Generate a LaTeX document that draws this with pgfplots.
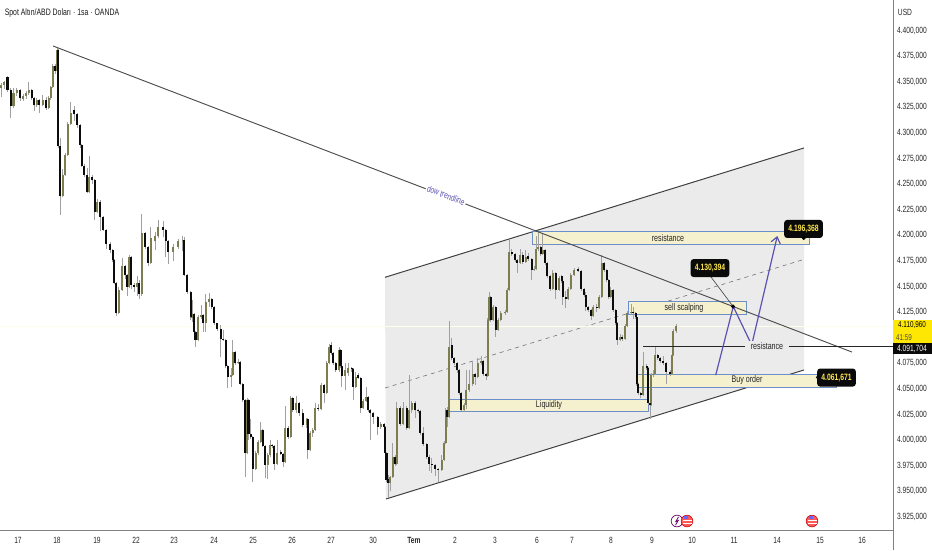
\documentclass[border=0pt]{standalone}
\usepackage{pgfplots}
\usepackage{pgfplotstable}
\usepackage{fontspec}
\pgfplotsset{compat=1.18}
\usetikzlibrary{arrows.meta}
\setmainfont{Liberation Sans}[FakeStretch=0.74]
\definecolor{upc}{HTML}{7C7D50}
\definecolor{dnc}{HTML}{0C0C0C}
\definecolor{wick}{HTML}{A0A0A0}
\definecolor{chan}{HTML}{EBEBEB}
\definecolor{boxf}{HTML}{F5F0CE}
\definecolor{boxl}{HTML}{6C8FC8}
\definecolor{purp}{HTML}{5A52B4}
\definecolor{ink}{HTML}{262626}
\definecolor{axc}{HTML}{808080}
\definecolor{pill}{HTML}{0A0A0A}
\definecolor{pillt}{HTML}{FFE84A}
\pgfplotstableread{
x o h l c
1 4344 4349 4335 4347
4.3 4347 4351 4343 4350
13.5 4326 4344 4324 4339
16.7 4339 4344 4336 4342
23.3 4333 4338 4331 4336
26 4336 4341 4333 4339
28.7 4339 4350 4337 4342
36.7 4327 4334 4325 4332
42.7 4327 4337 4326 4332
48.7 4324 4336 4323 4334
50.7 4334 4346 4332 4345
52.7 4345 4367 4344 4365
57 4360 4384 4359 4381
62.7 4238 4265 4237 4259
65 4259 4280 4258 4278
67.7 4278 4311 4277 4309
70.7 4309 4330 4308 4319
89.3 4242 4277 4241 4257
97.3 4223 4235 4222 4233
118.7 4124 4150 4123 4147
122 4147 4178 4146 4170
129.3 4150 4181 4149 4179
137.3 4150 4160 4141 4153
141.7 4143 4221 4141 4202
150.7 4173 4208 4172 4197
155 4194 4203 4186 4199
158.3 4199 4215 4197 4208
173.3 4184 4192 4175 4189
178.3 4189 4196 4187 4194
182.7 4194 4199 4185 4195
192 4119 4137 4115 4123
198 4098 4122 4097 4120
201 4120 4132 4118 4122
205.7 4114 4143 4106 4135
209.3 4135 4144 4130 4138
231 4062 4070 4052 4064
232.7 4064 4098 4063 4086
238.3 4075 4079 4074 4076
247 3987 4041 3986 4039
255.7 3972 3989 3971 3987
258.3 3987 4000 3985 3998
260.7 3998 4018 3997 4010
267.7 3976 3987 3962 3985
270 3985 4000 3984 3995
277.3 3977 4000 3976 3987
285 3979 4033 3978 4012
290.7 4003 4043 4002 4041
296 4029 4043 4026 4036
306.7 4015 4022 4012 4021
310 3990 4009 3989 4007
312.7 4007 4012 4003 4010
315 4010 4036 4009 4031
321 4030 4056 4029 4054
326.7 4046 4077 4045 4075
329 4075 4094 4074 4091
339 4068 4091 4067 4088
345 4063 4075 4049 4068
348.3 4066 4075 4063 4070
355.7 4052 4067 4051 4062
363.3 4031 4040 4030 4038
366 4038 4052 4037 4042
380.7 4013 4018 4011 4016
390 3958 3965 3950 3964
392.7 3964 3997 3963 3984
396.7 3977 4037 3976 4031
403.3 4016 4037 4015 4031
409.3 4012 4064 4011 4029
411.7 4029 4038 4026 4036
441.7 3971 3985 3970 3981
444 3981 3999 3980 3997
445.7 3997 4031 3996 4029
449 4023 4116 4022 4091
464.3 4029 4036 4027 4034
466 4034 4068 4030 4049
469.3 4049 4068 4047 4055
472.7 4055 4076 4053 4065
477.7 4062 4080 4061 4075
481 4075 4082 4073 4077
487.7 4063 4119 4062 4117
489 4117 4145 4116 4140
493.3 4117 4132 4116 4130
498.3 4108 4119 4107 4117
500.7 4117 4126 4116 4124
505 4124 4127 4122 4125
507.3 4125 4149 4124 4147
509 4147 4195 4146 4184
520 4173 4187 4172 4181
525.7 4174 4186 4173 4179
534 4166 4170 4165 4167
536 4167 4199 4166 4187
538.3 4187 4203 4185 4189
542.7 4182 4202 4181 4186
552.7 4148 4166 4147 4163
559.3 4147 4160 4146 4158
568.3 4138 4150 4137 4148
570.7 4148 4163 4147 4161
574 4161 4168 4160 4166
593.3 4121 4132 4120 4130
599.3 4129 4142 4128 4140
601.7 4140 4181 4139 4173
610.7 4140 4150 4139 4147
620 4098 4104 4097 4101
625 4099 4113 4098 4111
627.3 4111 4126 4110 4124
631 4124 4133 4122 4125
643.3 4044 4086 4043 4072
651 4034 4066 4033 4064
653.3 4064 4068 4062 4065
655 4065 4091 4064 4083
672 4065 4085 4064 4083
673.3 4083 4109 4082 4107
676 4107 4113 4105 4111
}\upT
\pgfplotstableread{
x o h l c
7.5 4355 4356 4340 4342
10.7 4342 4344 4315 4326
20 4342 4343 4331 4334
31.7 4342 4343 4332 4334
34 4334 4335 4321 4327
39.3 4332 4333 4319 4327
46 4332 4335 4322 4324
55.3 4365 4367 4358 4360
58.3 4381 4382 4285 4287
60 4287 4295 4220 4238
74 4322 4326 4312 4318
77.3 4318 4319 4305 4308
80 4308 4309 4285 4288
81.7 4288 4289 4267 4268
84 4268 4270 4257 4259
87.3 4259 4266 4241 4242
92 4257 4259 4250 4254
94.7 4254 4255 4215 4223
100 4233 4234 4204 4218
103.3 4218 4219 4204 4205
106 4205 4206 4187 4192
110 4192 4193 4183 4186
112.7 4186 4187 4174 4176
114 4176 4177 4152 4153
116 4153 4154 4121 4124
125 4170 4171 4157 4161
127.3 4161 4162 4141 4150
131 4179 4180 4148 4151
134 4151 4153 4145 4150
139.3 4153 4156 4138 4143
145 4202 4203 4187 4189
148.3 4189 4190 4170 4173
163.3 4208 4214 4198 4205
165.7 4205 4206 4179 4194
168.3 4194 4195 4172 4184
184.3 4195 4198 4160 4161
187.3 4161 4162 4143 4145
190.7 4145 4146 4117 4120
194 4123 4124 4104 4106
195.5 4106 4107 4091 4098
203.3 4122 4123 4106 4114
211.7 4138 4139 4128 4130
214 4130 4131 4112 4114
217.3 4114 4114 4107 4109
220.7 4109 4112 4081 4099
223.3 4099 4108 4097 4098
225.7 4098 4099 4070 4072
227.7 4072 4073 4051 4062
235.3 4086 4087 4073 4075
240 4076 4077 4054 4055
242.7 4055 4056 4037 4039
245 4039 4040 3964 3987
248.5 4039 4040 4000 4006
250.7 4006 4021 4001 4003
252.7 4003 4004 3959 3972
262.7 4010 4011 3993 3994
265 3994 3995 3963 3976
272.3 3995 3996 3992 3994
274.3 3994 3995 3971 3977
280.7 3988 3990 3985 3986
283.3 3986 3987 3974 3979
288.3 4012 4014 4001 4003
292.7 4041 4042 4027 4029
299.3 4036 4037 4024 4026
302.7 4026 4030 4013 4015
307.7 4021 4022 3982 3990
318.3 4031 4035 4028 4030
324.3 4054 4055 4036 4046
331 4093 4096 4083 4085
333.3 4085 4086 4073 4075
335.7 4075 4076 4067 4068
340.5 4088 4089 4070 4072
341.7 4072 4073 4052 4063
351.7 4070 4071 4067 4069
353.3 4069 4070 4039 4052
358.3 4064 4066 4060 4061
360.7 4061 4062 4026 4031
368.3 4042 4043 4027 4029
370 4029 4030 4000 4026
373.3 4026 4027 4016 4023
377.7 4023 4024 4005 4013
384 4016 4017 4011 4013
385 4013 4014 3985 3987
386.5 3987 3988 3959 3961
388 3962 3966 3943 3958
395 3984 3985 3975 3977
400 4031 4033 4014 4016
406.7 4031 4033 4010 4012
415 4036 4038 4022 4029
418.3 4029 4030 4026 4028
420 4028 4029 4005 4007
423.3 4007 4013 3994 3996
426.7 3996 3997 3982 3984
429.3 3984 3985 3970 3977
431.7 3977 3983 3968 3976
435 3976 3977 3965 3972
438.3 3972 3973 3959 3971
447.3 4029 4032 4013 4023
451.7 4093 4100 4078 4080
454 4080 4081 4073 4075
457.3 4075 4076 4066 4068
459.3 4068 4069 4044 4046
461 4046 4047 4028 4029
475 4065 4066 4054 4062
483.3 4077 4078 4063 4065
486 4065 4066 4059 4063
490.7 4140 4141 4115 4117
495.7 4130 4131 4101 4108
511.7 4184 4187 4180 4182
515 4182 4183 4174 4176
517.3 4176 4177 4163 4173
522.7 4181 4184 4172 4174
528.3 4180 4183 4175 4177
531.7 4177 4178 4156 4166
540.7 4189 4190 4180 4182
545 4186 4187 4171 4173
547.3 4173 4174 4158 4160
550 4160 4161 4146 4148
555.7 4163 4164 4138 4147
561.7 4160 4161 4153 4155
562.7 4155 4156 4132 4140
565.7 4140 4146 4129 4138
578.3 4167 4169 4164 4165
581 4165 4166 4146 4148
584 4148 4149 4140 4142
585.7 4142 4145 4126 4130
588.3 4130 4131 4125 4127
591 4127 4128 4117 4121
596.7 4130 4133 4125 4129
604 4173 4174 4164 4166
606.7 4166 4167 4154 4156
608.7 4156 4157 4138 4140
613.3 4147 4148 4125 4127
615.7 4127 4128 4112 4114
617.3 4114 4115 4093 4098
622.3 4101 4103 4097 4099
633.3 4125 4130 4118 4124
635.7 4124 4125 4118 4120
636.7 4120 4121 4053 4055
638.3 4055 4056 4044 4046
640.7 4046 4047 4041 4044
646.7 4072 4074 4068 4070
648 4070 4071 4034 4036
650 4036 4037 4021 4034
657.7 4083 4084 4078 4080
660 4080 4081 4075 4077
663.3 4077 4082 4073 4075
666 4075 4076 4055 4067
670 4067 4068 4063 4065
}\dnT
\newcommand{\pillnode}[3]{\node[fill=pill,text=pillt,rounded corners=2.2pt,minimum width=#3,minimum height=13.5pt,inner sep=0pt,font=\fontsize{6.9pt}{8pt}\selectfont\bfseries] at (axis cs:#1) {#2};}
\pgfplotsset{cwick/.style={draw=none,no markers,forget plot,error bars/.cd,y dir=plus,y explicit,error mark=none,error bar style={draw=wick,solid,line width=0.6pt}},
 cbody/.style={draw=none,no markers,forget plot,error bars/.cd,y dir=plus,y explicit,error mark=none,error bar style={draw=#1,solid,line width=1.7pt}}}
\begin{document}
\begin{tikzpicture}
\begin{axis}[
  name=ax, width=699pt, height=412.5pt, scale only axis,
  xmin=0, xmax=932, ymin=3892.7, ymax=4429.8, clip=false,
  axis line style={draw=none}, major tick length=0pt,
  font=\fontsize{6.75pt}{8pt}\selectfont,
  tick label style={text=ink},
  xtick={18,57,97,136,174,214,253,292,331,373,414,455,495,537,572,611,652,692,734,777,820,862},
  xticklabels={17,18,19,22,23,24,25,26,27,30,{\bfseries Tem},2,3,6,7,8,9,10,11,14,15,16},
  xticklabel style={anchor=center,yshift=7.5pt},
  ytick={3925,3950,3975,4000,4025,4050,4075,4125,4150,4175,4200,4225,4250,4275,4300,4325,4350,4375,4400},
  yticklabels={{3.925,000},{3.950,000},{3.975,000},{4.000,000},{4.025,000},{4.050,000},{4.075,000},{4.125,000},{4.150,000},{4.175,000},{4.200,000},{4.225,000},{4.250,000},{4.275,000},{4.300,000},{4.325,000},{4.350,000},{4.375,000},{4.400,000}},
  yticklabel style={anchor=center,xshift=684pt},
]
% channel
\addplot[fill=chan,draw=none] coordinates {(385,4159)(804,4285.3)(804,4068.5)(386,3942.5)} -- cycle;
\addplot[line width=0.75pt,color=black!75] coordinates {(385,4159)(804,4285.3)};
\addplot[line width=0.75pt,color=black!75] coordinates {(386,3942.5)(804,4068.5)};
\addplot[line width=0.4pt,dash pattern=on 3pt off 3pt,color=black!60] coordinates {(385,4050.9)(802,4175.9)};
% current price line
\addplot[line width=0.5pt,color=yellow!10] coordinates {(0,4111)(893,4111)};
% zones
\addplot[fill=boxf,draw=boxl,line width=0.6pt] coordinates {(532,4204.2)(809,4204.2)(809,4191.5)(532,4191.5)} -- cycle;
\addplot[fill=boxf,draw=boxl,line width=0.6pt] coordinates {(628,4135.8)(746,4135.8)(746,4122.9)(628,4122.9)} -- cycle;
\addplot[fill=boxf,draw=boxl,line width=0.6pt] coordinates {(448.5,4039.9)(648,4039.9)(648,4028.2)(448.5,4028.2)} -- cycle;
\addplot[fill=boxf,draw=boxl,line width=0.6pt] coordinates {(637,4064.5)(836,4064.5)(836,4051.9)(637,4051.9)} -- cycle;
% candles
\addplot[cwick] table[x=x,y=l,y error plus expr=\thisrow{h}-\thisrow{l}] {\upT};
\addplot[cwick] table[x=x,y=l,y error plus expr=\thisrow{h}-\thisrow{l}] {\dnT};
\addplot[cbody=upc] table[x=x,y=o,y error plus expr=\thisrow{c}-\thisrow{o}] {\upT};
\addplot[cbody=dnc] table[x=x,y=c,y error plus expr=\thisrow{o}-\thisrow{c}] {\dnT};
% trend line
\addplot[line width=0.7pt,color=black!70] coordinates {(53,4384.9)(852,4086)};
% resistance horizontal
\addplot[line width=0.6pt,color=black!85] coordinates {(643,4091.9)(893,4091.9)};
% connector and plan
\addplot[line width=0.5pt,color=black!70] coordinates {(711,4159.3)(733,4130.6)};
\addplot[line width=0.9pt,color=purp,-{Straight Barb[length=4.5pt,width=7pt]}] coordinates {(715.7,4063.5)(733.3,4130.4)(751.7,4092.9)(777.3,4199.3)};
% dots
\addplot[only marks,mark=*,mark size=1.3pt,color=black] coordinates {(733,4130.5)(803.7,4197.4)};
\addplot[only marks,mark=o,mark size=1.4pt,color=black,mark options={fill=white}] coordinates {(818,4061.2)};
% axes
\addplot[line width=0.7pt,color=axc] coordinates {(893,3892.7)(893,4429.8)};
\addplot[line width=0.7pt,color=axc] coordinates {(0,3912.2)(893,3912.2)};
% texts
\node[anchor=west,inner sep=0pt,text=black!90,font=\fontsize{7pt}{8pt}\selectfont] at (axis cs:4.5,4417) {Spot Altın/ABD Doları · 1sa · OANDA};
\node[text=ink,font=\fontsize{6.75pt}{8pt}\selectfont] at (axis cs:905,4418) {USD};
\node[fill=white,inner sep=1pt,rotate=-21,text=purp,font=\fontsize{6.75pt}{8pt}\selectfont] at (axis cs:446,4239) {dow trendline};
\node[text=ink,font=\fontsize{7.2pt}{8pt}\selectfont] at (axis cs:668,4197.4) {resistance};
\node[text=ink,font=\fontsize{7.2pt}{8pt}\selectfont] at (axis cs:684,4129) {sell scalping};
\node[text=ink,font=\fontsize{7.2pt}{8pt}\selectfont] at (axis cs:549,4034.3) {Liquidity};
\node[text=ink,font=\fontsize{7.2pt}{8pt}\selectfont] at (axis cs:747,4058.7) {Buy order};
\node[fill=chan,inner sep=1pt,minimum width=33pt,text=ink,font=\fontsize{7.2pt}{8pt}\selectfont] at (axis cs:767,4091.9) {resistance};
\pillnode{803.5,4206.2}{4.196,368}{29pt}
\pillnode{710,4168}{4.130,394}{29pt}
\pillnode{836.5,4061.1}{4.061,671}{29pt}
% right labels
\fill[yellow!90!orange] (axis cs:893,4117) rectangle (axis cs:932,4095.1);
\fill[pill] (axis cs:893,4095.1) rectangle (axis cs:932,4083.8);
\node[text=black,inner sep=0pt,font=\fontsize{6.4pt}{6.6pt}\selectfont] at (axis cs:912,4112) {4.110,960};
\node[text=black!70,inner sep=0pt,font=\fontsize{6.4pt}{6.6pt}\selectfont] at (axis cs:904,4100.5) {41:59};
\node[text=white,inner sep=0pt,font=\fontsize{6.75pt}{7pt}\selectfont] at (axis cs:912,4089.5) {4.091,704};
% event icons
\draw[color=violet!80!black,fill=white,line width=0.5pt] (axis cs:677,3921) circle (4.4pt);
\addplot[line width=0.6pt,color=violet!80!black] coordinates {(678.5,3925)(675.8,3920.5)(678.2,3921.5)(675.5,3917)};
\foreach \xc in {687,812}{
  \edef\tmp{\noexpand\draw[color=red!75!black,fill=red!65,line width=0.4pt] (axis cs:\xc,3921) circle (4.4pt);
  \noexpand\draw[color=white,line width=0.5pt] (axis cs:\xc-4,3922) -- (axis cs:\xc+5,3922);
  \noexpand\draw[color=white,line width=0.5pt] (axis cs:\xc-4,3918.5) -- (axis cs:\xc+5,3918.5);
  \noexpand\fill[color=blue!60] (axis cs:\xc-3.5,3923) rectangle (axis cs:\xc+0.5,3926);}
  \tmp
}
\end{axis}
\pgfresetboundingbox
\path[use as bounding box] (ax.south west) rectangle (ax.north east);
\end{tikzpicture}
\end{document}
